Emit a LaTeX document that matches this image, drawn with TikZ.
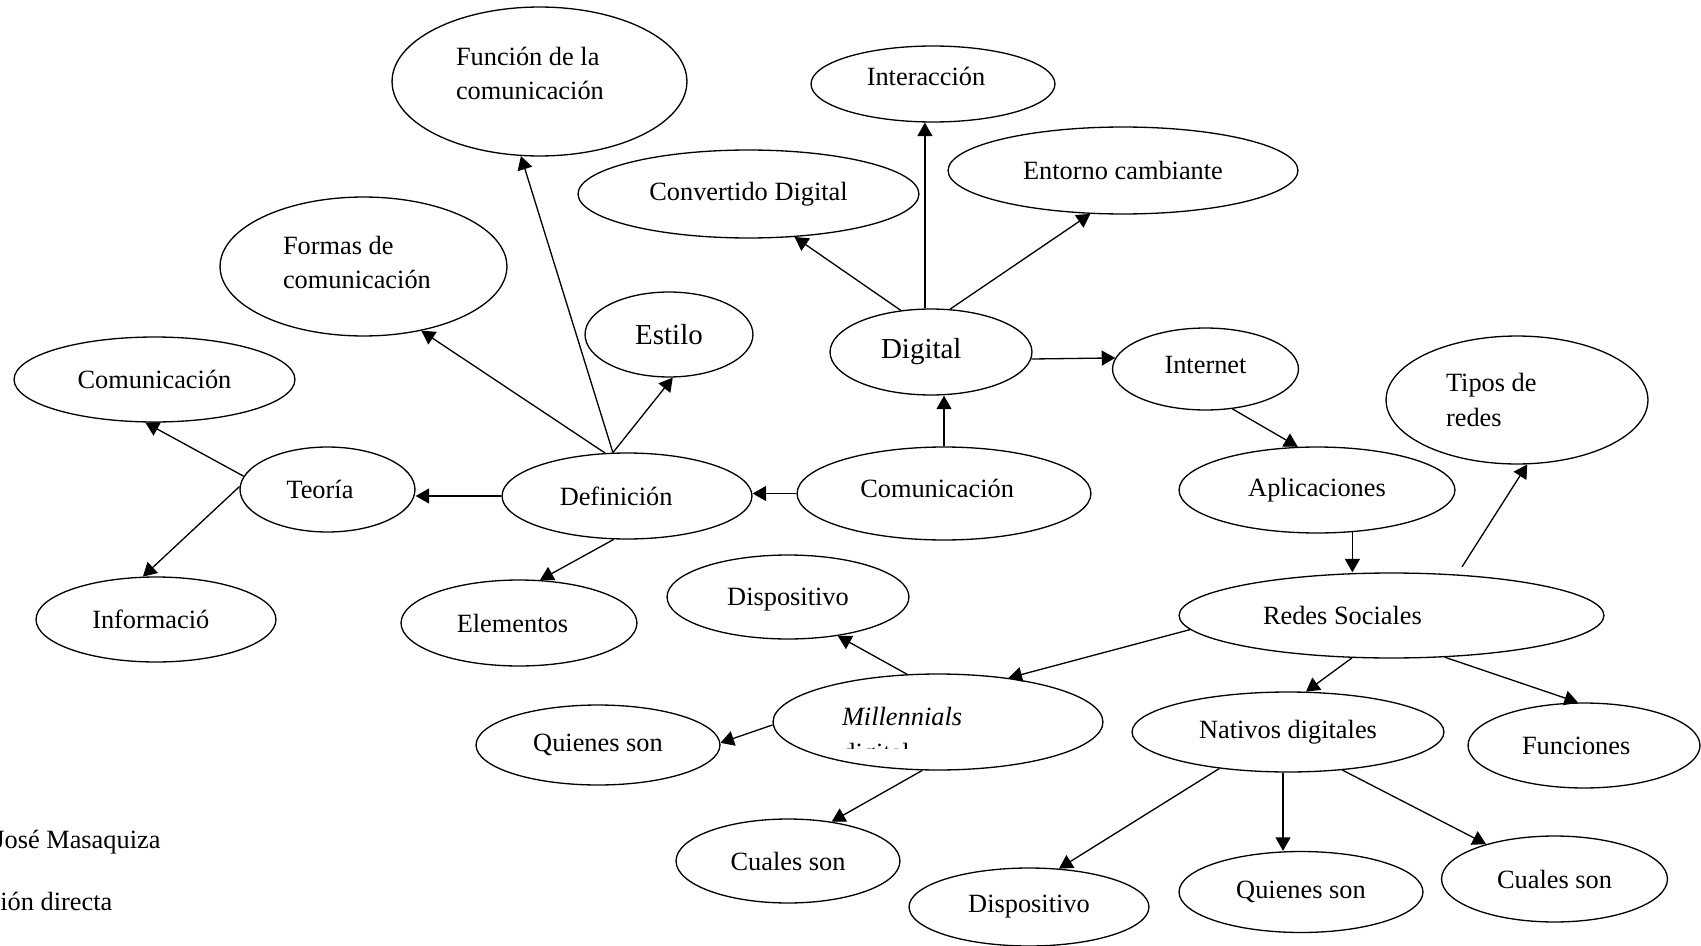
\documentclass[tikz,border=0pt]{standalone}
\usepackage{fontspec}
\setmainfont{Liberation Serif}
\usetikzlibrary{shapes.geometric,arrows.meta}

\begin{document}
\begin{tikzpicture}[x={(0.02cm,0)}, y={(0,-0.02cm)},
    oval/.style 2 args={ellipse, draw, line width=0.75pt, inner sep=0pt,
      minimum width=#1*0.04cm, minimum height=#2*0.04cm},
    txt/.style={font=\fontsize{15}{19.5}\selectfont},
    big/.style={font=\fontsize{16.5}{20}\selectfont},
    lefttext/.style={align=flush left, text width=#1},
    arr/.style={line width=0.75pt, -{Triangle[length=0.27cm,width=0.3cm]}}]
    \useasboundingbox (0,0) rectangle (1701,946);

    % Definicion side
    \node[oval={147.5}{74.5}, txt, lefttext=3.34cm, text depth=28.5pt] (fun) at (539.5,81.5) {Función de la\\comunicación};
    \node[oval={143.5}{69.5}, txt, lefttext=3.22cm, text depth=24.5pt] (formas) at (363.5,266.5) {Formas de\\comunicación};
    \node[oval={84}{42.5}, big] (estilo) at (669,334.5) {Estilo};
    \node[oval={140.5}{42.5}, txt] (comL) at (154.5,379.5) {Comunicación};
    \node[oval={87.5}{42.5}, txt, lefttext=1.64cm] (teo) at (327.5,489.5) {Teoría};
    \node[oval={125}{43}, txt, lefttext=2.69cm] (def) at (627,496) {Definición};
    \node[oval={120}{42.5}, txt, lefttext=2.55cm] (info) at (156,619.5) {Informació};
    \node[oval={118}{43}, txt, lefttext=2.49cm] (elem) at (519,623) {Elementos};

    % Digital side
    \node[oval={122}{38}, txt, lefttext=2.65cm, text depth=9pt] (inter) at (933,84) {Interacción};
    \node[oval={170.5}{44}, txt] (conv) at (748.5,194) {Convertido Digital};
    \node[oval={175}{43.5}, txt] (ent) at (1123,170.5) {Entorno cambiante};
    \node[oval={101}{43}, big, lefttext=2.0cm] (dig) at (931,352) {Digital};
    \node[oval={93}{41}, txt, text depth=5pt] (inet) at (1205.5,369) {Internet};
    \node[oval={147}{46.5}, txt, lefttext=3.35cm, text depth=6pt] (comC) at (944,493.5) {Comunicación};
    \node[oval={138}{43}, txt] (apl) at (1317,490) {Aplicaciones};
    \node[oval={131}{64}, txt, lefttext=2.84cm] (tipos) at (1517,400) {Tipos de\\redes};

    % Redes sociales
    \node[oval={212.5}{42.5}, txt, lefttext=5.14cm] (redes) at (1391.5,615.5) {Redes Sociales};
    \node[oval={121}{42}, txt, text height=13pt] (dispA) at (788,597) {Dispositivo};
    \node[oval={165}{48}, txt, lefttext=3.84cm, text depth=6.5pt] (mill) at (938,722) {\textit{Millennials}};
    \begin{scope}
        \clip (800,700) rectangle (1000,748);
        \node[txt, anchor=base west, inner sep=0pt] (mdig) at (842,761) {digital};
    \end{scope}
    \node[oval={122}{40}, txt] (quiA) at (598,745) {Quienes son};
    \node[oval={112}{42}, txt] (cuaA) at (788,861) {Cuales son};
    \node[oval={156}{40}, txt] (nat) at (1288,732) {Nativos digitales};
    \node[oval={116}{42.5}, txt, lefttext=2.48cm] (func) at (1584,745.5) {Funciones};
    \node[oval={120}{39}, txt] (dispB) at (1029,907) {Dispositivo};
    \node[oval={122}{40.5}, txt] (quiB) at (1301,892) {Quienes son};
    \node[oval={113}{43}, txt] (cuaB) at (1554.5,879) {Cuales son};

    \node[txt, anchor=base west, inner sep=0pt] (autor) at (-6,848) {José Masaquiza};
    \node[txt, anchor=base west, inner sep=0pt] (fuente) at (0,910) {ión directa};

    % connectors
    \draw[arr] (def.108) -- (fun.256);
    \draw[arr] (def.117) -- (formas.312);
    \draw[arr] (def.108) -- (estilo.275);
    \draw[arr] (def.west) -- (def.west -| teo.east);
    \draw[arr] (def.253) -- (elem.64);
    \draw[arr] (teo.171) -- (comL.258);
    \draw[arr] (teo.178) -- (info.107);
    \draw[arr] (comC.west) -- (comC.west -| def.east);
    \draw[arr] (comC.north) -- (comC.north |- dig.south);
    \draw[arr] (dig.126) -- (conv.317);
    \draw[arr] (dig.98) -- (dig.98 |- inter.south);
    \draw[arr] (dig.66) -- (ent.233);
    \draw[arr] (dig.356) -- (inet.173);
    \draw[arr] (inet.304) -- (apl.114);
    \draw[arr] (apl.310) -- (apl.310 |- redes.north);
    \draw[arr, shorten <=0.18cm] (redes.32) -- (tipos.279);
    \draw[arr] (redes.184) -- (mill.32);
    \draw[arr] (redes.227) -- (nat.66);
    \draw[arr] (redes.322) -- (func.98);
    \draw[arr] (mill.123) -- (dispA.322);
    \draw[arr] (mill.181) -- (quiA.1);
    \draw[arr] (mill.252) -- (cuaA.42);
    \draw[arr] (nat.208) -- (dispB.52);
    \draw[arr] (nat.263) -- (nat.263 |- quiB.north);
    \draw[arr] (nat.325) -- (cuaB.153);
\end{tikzpicture}
\end{document}
